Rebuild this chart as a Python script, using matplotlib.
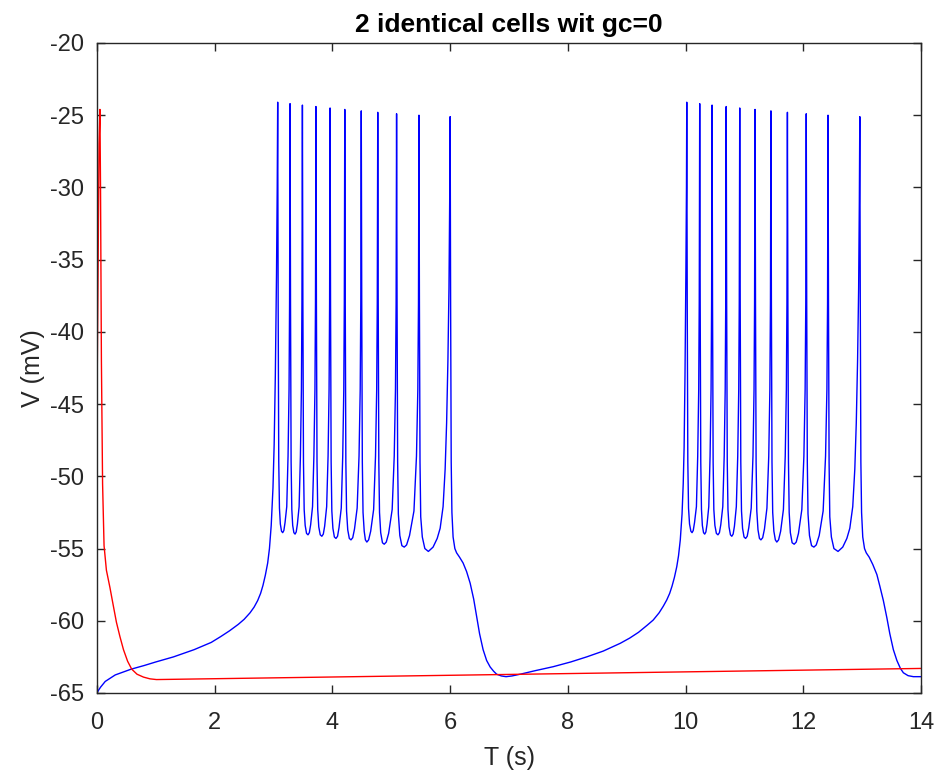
import matplotlib
matplotlib.use("Agg")
import matplotlib.pyplot as plt

# blue cell: time (s) and membrane potential (mV)
pre_t = [0.00, 0.02, 0.06, 0.14, 0.31, 0.58, 0.80, 1.00, 1.30, 1.65, 1.94, 2.10,
         2.25, 2.40, 2.50, 2.60, 2.67, 2.73, 2.78, 2.82, 2.86, 2.90, 2.93, 2.96,
         2.99, 3.01, 3.03, 3.05, 3.062]
pre_v = [-65.0, -64.85, -64.6, -64.2, -63.75, -63.35, -63.1, -62.85, -62.5, -62.0, -61.5, -61.1,
         -60.7, -60.25, -59.9, -59.45, -59.05, -58.6, -58.1, -57.55, -56.85, -56.0, -55.0, -53.4,
         -50.8, -47.8, -43.0, -36.0, -30.0]

burst1_t = [
    3.07, 3.078, 3.088, 3.10, 3.115, 3.135, 3.155, 3.175, 3.195, 3.224, 3.246, 3.263, 3.272,
    3.28, 3.288, 3.298, 3.31, 3.325, 3.345, 3.365, 3.385, 3.405, 3.434, 3.456, 3.473, 3.482,
    3.49, 3.498, 3.508, 3.52, 3.537, 3.56, 3.585, 3.608, 3.63, 3.662, 3.685, 3.703, 3.712,
    3.72, 3.728, 3.738, 3.75, 3.768, 3.793, 3.82, 3.845, 3.868, 3.902, 3.926, 3.943, 3.952,
    3.96, 3.968, 3.978, 3.99, 4.008, 4.033, 4.06, 4.087, 4.112, 4.15, 4.175, 4.193, 4.202,
    4.21, 4.218, 4.228, 4.24, 4.26, 4.287, 4.315, 4.345, 4.375, 4.42, 4.452, 4.472, 4.482,
    4.49, 4.498, 4.508, 4.52, 4.54, 4.56, 4.585, 4.615, 4.65, 4.70, 4.732, 4.752, 4.762,
    4.77, 4.778, 4.788, 4.80, 4.82, 4.85, 4.88, 4.915, 4.955, 5.015, 5.05, 5.071, 5.082,
    5.09, 5.098, 5.108, 5.12, 5.145, 5.18, 5.22, 5.26, 5.31, 5.385, 5.428, 5.451, 5.462,
    5.47, 5.478, 5.488, 5.50, 5.527, 5.57, 5.63, 5.71, 5.78, 5.83, 5.88, 5.915, 5.94, 5.962,
    5.98, 5.992, 6.00,
]
burst1_v = [
    -24.1, -38, -49.0, -52.2, -53.3, -53.8, -53.9, -53.75, -53.2, -52.1, -48.6, -44, -38,
    -24.2, -38, -49.0, -52.3, -53.4, -53.9, -54.0, -53.85, -53.3, -52.1, -48.6, -44, -38,
    -24.3, -38, -49.0, -52.3, -53.4, -53.95, -54.05, -53.9, -53.35, -52.1, -48.6, -44, -38,
    -24.4, -38, -49.0, -52.3, -53.5, -54.05, -54.15, -54.0, -53.45, -52.1, -48.6, -44, -38,
    -24.5, -38, -49.0, -52.4, -53.6, -54.2, -54.3, -54.15, -53.55, -52.2, -48.6, -44, -38,
    -24.6, -38, -49.0, -52.4, -53.7, -54.3, -54.4, -54.25, -53.65, -52.2, -48.6, -44, -38,
    -24.7, -38, -49.0, -52.5, -53.8, -54.4, -54.55, -54.4, -53.8, -52.3, -48.6, -44, -38,
    -24.8, -38, -49.0, -52.5, -53.9, -54.6, -54.7, -54.55, -53.95, -52.3, -48.6, -44, -38,
    -24.9, -38, -49.0, -52.6, -54.1, -54.8, -54.9, -54.75, -54.1, -52.4, -48.6, -44, -38,
    -25.0, -38, -49.0, -52.8, -54.2, -55.0, -55.2, -54.9, -54.3, -53.6, -52.1, -49.5, -46.3, -42,
    -37, -31, -25.1,
]

silent_t = [6.008, 6.018, 6.03, 6.05, 6.08, 6.11, 6.16, 6.22, 6.28, 6.34, 6.40, 6.45,
            6.50, 6.56, 6.62, 6.68, 6.74, 6.79, 6.87, 6.95, 7.05, 7.19, 7.45, 7.75,
            8.05, 8.32, 8.60, 8.89, 9.05, 9.20, 9.35, 9.45, 9.55, 9.62, 9.68, 9.73,
            9.77, 9.81, 9.85, 9.88, 9.91, 9.94, 9.96, 9.975, 9.99, 10.005, 10.015]
silent_v = [-38, -49, -52.5, -54.2, -55.0, -55.3, -55.6, -56.0, -56.6, -57.4, -58.5, -59.7,
            -60.9, -62.0, -62.75, -63.2, -63.5, -63.7, -63.82, -63.87, -63.82, -63.7, -63.45, -63.18,
            -62.85, -62.5, -62.1, -61.56, -61.2, -60.8, -60.3, -59.95, -59.45, -59.0, -58.56, -58.1,
            -57.6, -57.0, -56.26, -55.5, -54.4, -52.6, -50.5, -48.0, -43.0, -36.0, -30.0]

burst2_t = [
    10.02, 10.028, 10.038, 10.05, 10.067, 10.09, 10.11, 10.13, 10.152, 10.184, 10.206, 10.223, 10.232,
    10.24, 10.248, 10.258, 10.27, 10.285, 10.305, 10.325, 10.345, 10.365, 10.394, 10.416, 10.433, 10.442,
    10.45, 10.458, 10.468, 10.48, 10.498, 10.523, 10.55, 10.575, 10.598, 10.632, 10.656, 10.673, 10.682,
    10.69, 10.698, 10.708, 10.72, 10.738, 10.762, 10.785, 10.808, 10.83, 10.862, 10.886, 10.903, 10.912,
    10.92, 10.928, 10.938, 10.95, 10.968, 10.993, 11.02, 11.047, 11.074, 11.115, 11.145, 11.163, 11.172,
    11.18, 11.188, 11.198, 11.21, 11.23, 11.255, 11.28, 11.31, 11.34, 11.382, 11.413, 11.432, 11.442,
    11.45, 11.458, 11.468, 11.48, 11.50, 11.525, 11.55, 11.58, 11.615, 11.662, 11.693, 11.712, 11.722,
    11.73, 11.738, 11.748, 11.76, 11.78, 11.81, 11.845, 11.88, 11.918, 11.975, 12.01, 12.031, 12.042,
    12.05, 12.058, 12.068, 12.08, 12.105, 12.14, 12.18, 12.22, 12.27, 12.337, 12.378, 12.401, 12.412,
    12.42, 12.428, 12.438, 12.45, 12.477, 12.52, 12.59, 12.67, 12.74, 12.79, 12.84, 12.875, 12.90, 12.922,
    12.94, 12.952, 12.96,
]
burst2_v = burst1_v  # same spike heights and trough depths, read from the second burst

tail_t = [12.968, 12.978, 12.99, 13.01, 13.04, 13.07, 13.12, 13.18, 13.25, 13.30, 13.36,
          13.42, 13.47, 13.53, 13.59, 13.65, 13.70, 13.78, 13.87, 14.00]
tail_v = [-38, -49, -52.5, -54.2, -55.0, -55.3, -55.6, -56.1, -56.8, -57.6, -58.6,
          -59.8, -60.9, -62.0, -62.75, -63.3, -63.6, -63.8, -63.87, -63.87]

# red cell: one spike at the start, then slow drift
red_t = [0.00, 0.02, 0.035, 0.05, 0.06, 0.075, 0.095, 0.12, 0.16, 0.22, 0.27,
         0.33, 0.39, 0.45, 0.52, 0.59, 0.68, 0.79, 0.90, 1.01, 14.00]
red_v = [-45.0, -35.0, -27.0, -24.6, -30.0, -42.0, -50.5, -54.8, -56.5, -57.7, -58.8,
         -60.1, -61.1, -62.0, -62.8, -63.35, -63.7, -63.9, -64.02, -64.07, -63.3]

x_ticks = [0, 2, 4, 6, 8, 10, 12, 14]
y_ticks = [-65, -60, -55, -50, -45, -40, -35, -30, -25, -20]

blue_t = pre_t + burst1_t + silent_t + burst2_t + tail_t
blue_v = pre_v + burst1_v + silent_v + burst2_v + tail_v

plt.rcParams["font.family"] = ["Liberation Sans", "DejaVu Sans"]

fig = plt.figure(figsize=(9.38, 7.73), dpi=100)
ax = fig.add_axes([0.1034, 0.1035, 0.8785, 0.8409])

ax.plot(blue_t, blue_v, color="#0000ff", linewidth=1.0)
ax.plot(red_t, red_v, color="#ff0000", linewidth=1.0)

ax.set_xlim(0, 14)
ax.set_ylim(-65, -20)
ax.set_xticks(x_ticks)
ax.set_yticks(y_ticks)
ax.set_yticklabels([str(v) for v in y_ticks])

axis_col = "#262626"
for s in ax.spines.values():
    s.set_color(axis_col)
    s.set_linewidth(1.0)
ax.tick_params(direction="in", length=6, width=1.0, color=axis_col,
               top=True, right=True, labelsize=17, labelcolor=axis_col)
ax.tick_params(axis="y", pad=9)
ax.tick_params(axis="x", pad=14)

ax.set_xlabel("T (s)", fontsize=18, color=axis_col, labelpad=8)
ax.set_ylabel("V (mV)", fontsize=18, color=axis_col, labelpad=4)
ax.set_title("2 identical cells wit gc=0", fontsize=19, fontweight="bold", pad=8)

fig.savefig("out.png", dpi=100)
